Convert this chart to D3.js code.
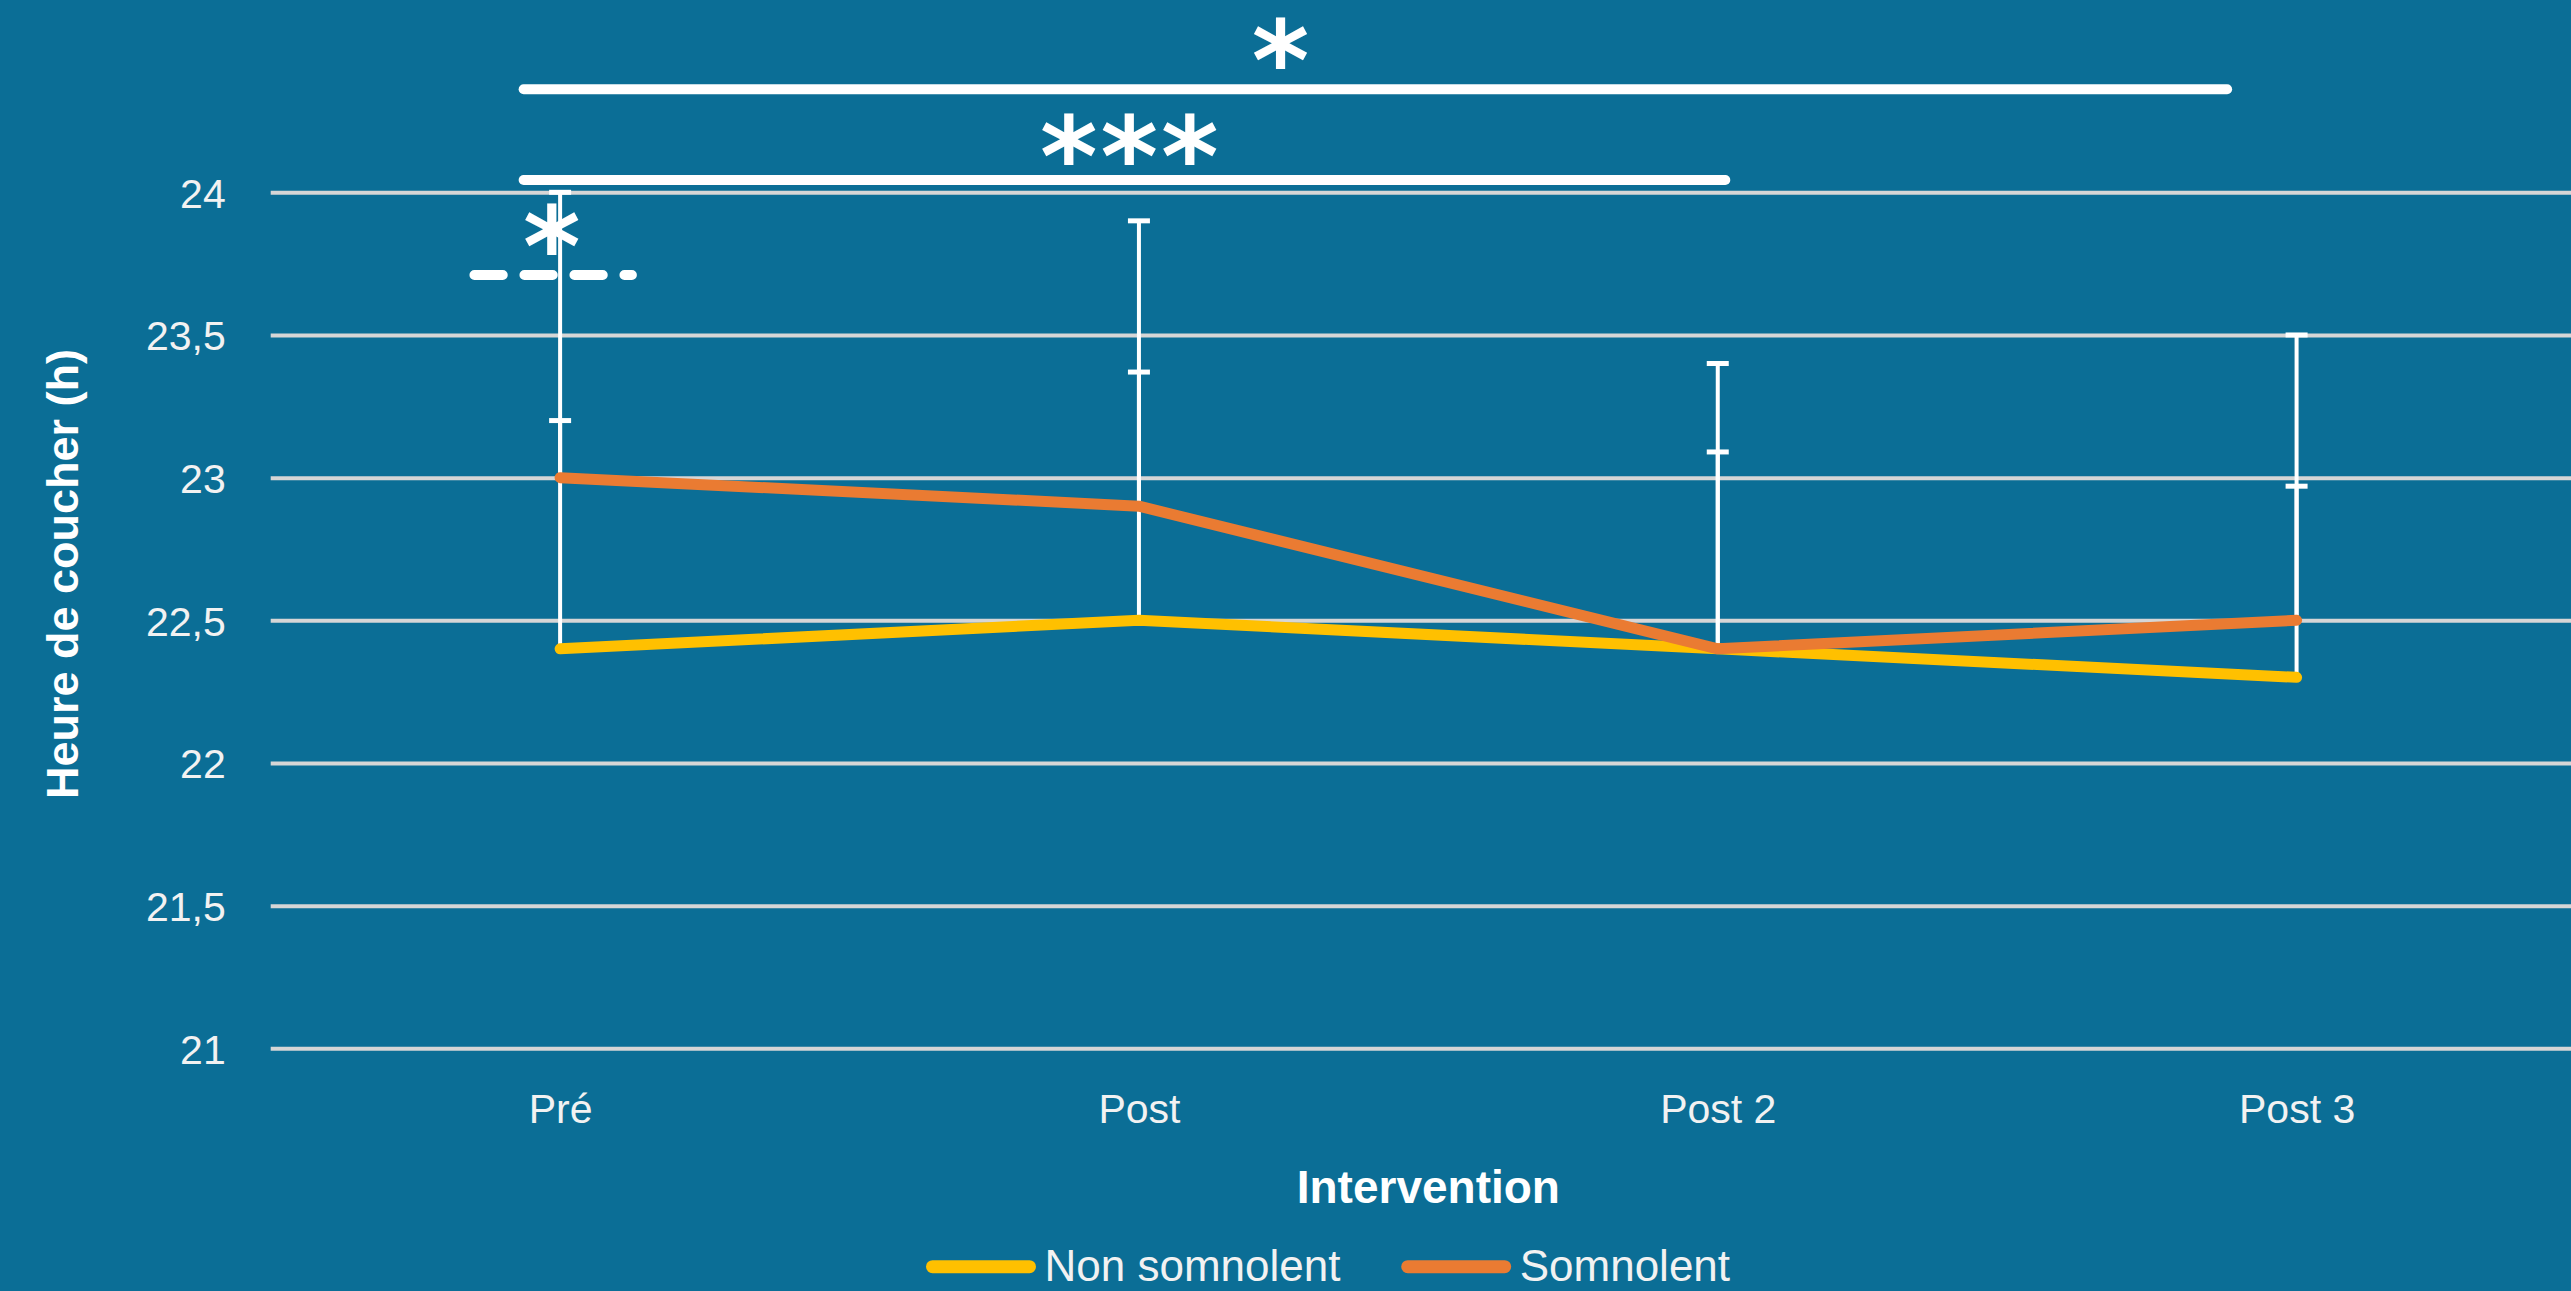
<!DOCTYPE html>
<html>
<head>
<meta charset="utf-8">
<script src="https://cdn.jsdelivr.net/npm/d3@7"></script>
<style>
  html, body { margin: 0; padding: 0; background: #0b6e96; overflow: hidden; }
  svg { display: block; }
</style>
</head>
<body>
<svg id="chart"></svg>
<script>
// ---------- data ----------
const categories = ["Pré", "Post", "Post 2", "Post 3"];
const nonSomnolent = [22.4, 22.5, 22.4, 22.3];
const somnolent = [23.0, 22.9, 22.4, 22.5];
const nonSomnolentErr = [0.8, 0.87, 0.69, 0.67];
const somnolentErr = [1.0, 1.0, 1.0, 1.0];
const yTicks = [21, 21.5, 22, 22.5, 23, 23.5, 24];
const yTickLabels = ["21", "21,5", "22", "22,5", "23", "23,5", "24"];
const seriesNames = ["Non somnolent", "Somnolent"];
const yTitle = "Heure de coucher (h)";
const xTitle = "Intervention";

// significance annotations (x in category-index units, y in data units)
const sigBrackets = [
  { x1: -0.063, x2: 2.880, y: 24.361, dashed: false },
  { x1: -0.063, x2: 2.013, y: 24.043, dashed: false },
  { x1: -0.148, x2: 0.124, y: 23.710, dashed: true }
];
const sigLabels = [
  { x: 1.247, y: 24.536, text: "*" },
  { x: 0.986, y: 24.199, text: "***" },
  { x: -0.012, y: 23.882, text: "*" }
];

// ---------- layout ----------
const W = 2571, H = 1291;
const plotLeft = 270.7, plotRight = 2586, plotTop = 192.3, plotBottom = 1048.3;
const colors = { bg: "#0b6e96", grid: "#d6d6d6", yellow: "#ffc000", orange: "#ea7b32", text: "#f2f2f2" };
const labelFont = "'Liberation Sans', Arial, sans-serif";

const svg = d3.select("#chart").attr("width", W).attr("height", H);
svg.append("rect").attr("width", W).attr("height", H).attr("fill", colors.bg);

const x = d3.scalePoint().domain(categories).range([plotLeft, plotRight]).padding(0.5);
const y = d3.scaleLinear().domain([21, 24]).range([plotBottom, plotTop]);
const xi = d3.scaleLinear().domain([0, categories.length - 1])
  .range([x(categories[0]), x(categories[categories.length - 1])]);

// ---------- y axis with gridlines ----------
const yAxis = d3.axisLeft(y)
  .tickValues(yTicks)
  .tickFormat((d, i) => yTickLabels[i])
  .tickSize(-(W - plotLeft + 10))
  .tickPadding(45);
const gy = svg.append("g").attr("transform", `translate(${plotLeft},0)`).call(yAxis);
gy.select(".domain").remove();
gy.selectAll(".tick line").attr("stroke", colors.grid).attr("stroke-width", 4);
gy.selectAll(".tick text")
  .attr("fill", colors.text)
  .attr("font-family", labelFont)
  .attr("font-size", 41)
  .attr("dy", "0.36em");

// ---------- x axis labels ----------
const xAxis = d3.axisBottom(x).tickSize(0).tickPadding(0);
const gx = svg.append("g").attr("transform", `translate(0,${plotBottom})`).call(xAxis);
gx.select(".domain").remove();
gx.selectAll(".tick text")
  .attr("fill", colors.text)
  .attr("font-family", labelFont)
  .attr("font-size", 41)
  .attr("dy", null)
  .attr("y", 75);

// ---------- axis titles ----------
svg.append("text")
  .attr("transform", `translate(78,574) rotate(-90)`)
  .attr("text-anchor", "middle")
  .attr("fill", "#ffffff")
  .attr("font-family", labelFont)
  .attr("font-weight", "bold")
  .attr("font-size", 45)
  .text(yTitle);

svg.append("text")
  .attr("x", (plotLeft + plotRight) / 2)
  .attr("y", 1203)
  .attr("text-anchor", "middle")
  .attr("fill", "#ffffff")
  .attr("font-family", labelFont)
  .attr("font-weight", "bold")
  .attr("font-size", 46)
  .text(xTitle);

// ---------- error bars (plus only) ----------
const errData = [];
categories.forEach((c, i) => {
  errData.push({ c, v: nonSomnolent[i], e: nonSomnolentErr[i] });
  errData.push({ c, v: somnolent[i], e: somnolentErr[i] });
});
const eb = svg.append("g").attr("stroke", "#ffffff");
eb.selectAll("line.stem").data(errData).join("line")
  .attr("class", "stem")
  .attr("x1", d => x(d.c)).attr("x2", d => x(d.c))
  .attr("y1", d => y(d.v)).attr("y2", d => y(d.v + d.e))
  .attr("stroke-width", 4);
eb.selectAll("line.cap").data(errData).join("line")
  .attr("class", "cap")
  .attr("x1", d => x(d.c) - 11).attr("x2", d => x(d.c) + 11)
  .attr("y1", d => y(d.v + d.e)).attr("y2", d => y(d.v + d.e))
  .attr("stroke-width", 5);

// ---------- series lines ----------
const line = d3.line().x((d, i) => x(categories[i])).y(d => y(d));
const series = [
  { name: seriesNames[0], values: nonSomnolent, color: colors.yellow },
  { name: seriesNames[1], values: somnolent, color: colors.orange }
];
svg.append("g").selectAll("path").data(series).join("path")
  .attr("d", d => line(d.values))
  .attr("fill", "none")
  .attr("stroke", d => d.color)
  .attr("stroke-width", 11)
  .attr("stroke-linecap", "round")
  .attr("stroke-linejoin", "round");

// ---------- significance annotations ----------
svg.append("g").selectAll("line").data(sigBrackets).join("line")
  .attr("x1", d => xi(d.x1)).attr("x2", d => xi(d.x2))
  .attr("y1", d => y(d.y)).attr("y2", d => y(d.y))
  .attr("stroke", "#ffffff")
  .attr("stroke-width", 10)
  .attr("stroke-linecap", "round")
  .attr("stroke-dasharray", d => d.dashed ? "28.3 21.7" : null);

const starSize = 110;
svg.append("g").selectAll("text").data(sigLabels).join("text")
  .attr("x", d => xi(d.x))
  .attr("y", d => y(d.y) + starSize * 0.55)
  .attr("text-anchor", "middle")
  .attr("fill", "#ffffff")
  .attr("font-family", "'DejaVu Sans', sans-serif")
  .attr("font-weight", "bold")
  .attr("font-size", starSize)
  .attr("letter-spacing", 3)
  .text(d => d.text);

// ---------- legend ----------
const legendItems = [
  { name: seriesNames[0], color: colors.yellow, x: 932.5 },
  { name: seriesNames[1], color: colors.orange, x: 1407.7 }
];
const lg = svg.append("g");
const li = lg.selectAll("g").data(legendItems).join("g")
  .attr("transform", d => `translate(${d.x},1266.7)`);
li.append("line")
  .attr("x1", 0).attr("x2", 97)
  .attr("stroke", d => d.color)
  .attr("stroke-width", 13)
  .attr("stroke-linecap", "round");
li.append("text")
  .attr("x", 112)
  .attr("y", 14)
  .attr("fill", colors.text)
  .attr("font-family", labelFont)
  .attr("font-size", 44)
  .text(d => d.name);
</script>
</body>
</html>
